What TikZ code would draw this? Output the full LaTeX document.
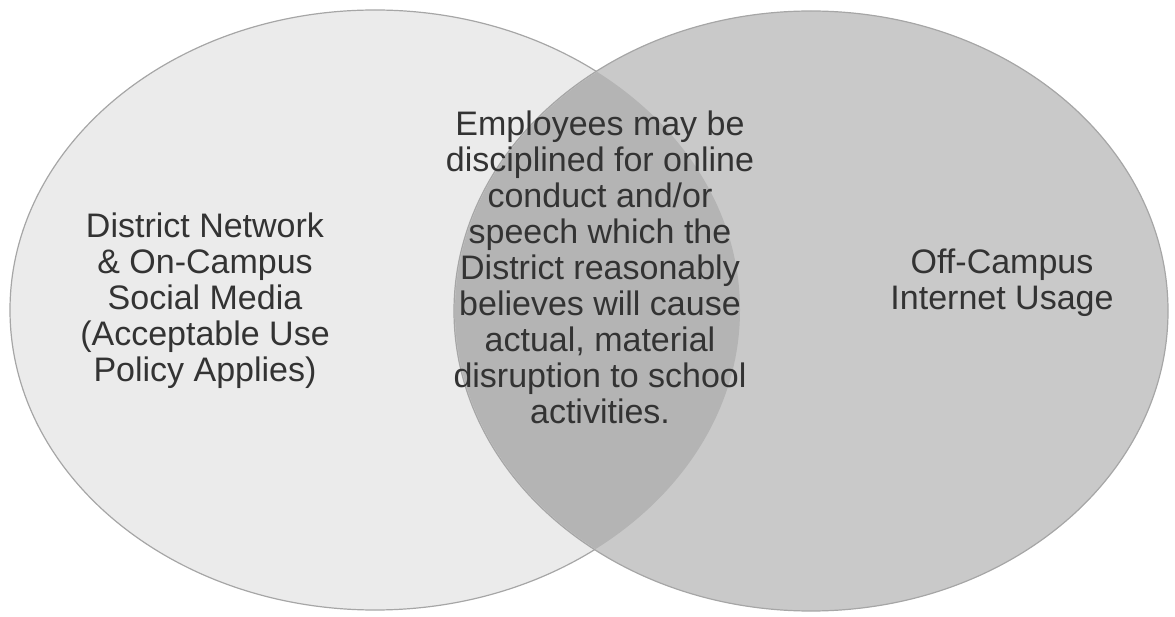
\documentclass[tikz,border=0pt]{standalone}
\usepackage{fontspec}
\setmainfont{Liberation Sans}
\definecolor{leftgray}{HTML}{EBEBEB}
\definecolor{rightgray}{HTML}{C9C9C9}
\definecolor{bothgray}{HTML}{B4B4B4}
\tikzstyle{venntext} = [align=center, text=black!80, inner sep=0pt,
    font=\fontsize{34}{36}\selectfont]
\tikzstyle{rim} = [draw=gray!70, line width=1.2pt]
\begin{document}
\begin{tikzpicture}[x=1pt, y=1pt]
    \useasboundingbox (0,0) rectangle (1175,616);
    % Draw circles
    \coordinate (lc) at (375,306);
    \coordinate (rc) at (811,305);
    \path [rim, fill=leftgray] (lc) ellipse [x radius=365, y radius=300];
    \path [rim, fill=rightgray] (rc) ellipse [x radius=357, y radius=300];
    \begin{scope}
        \clip (lc) ellipse [x radius=365, y radius=300];
        \fill [bothgray] (rc) ellipse [x radius=356, y radius=299];
    \end{scope}
    % Place nodes
    \node [venntext] (district) at (205,315) {District Network\\\& On-Campus\\Social Media\\(Acceptable Use\\Policy Applies)};
    \node [venntext] (offcampus) at (1002,333) {Off-Campus\\Internet Usage};
    \node [venntext] (overlap) at (600,349) {Employees may be\\disciplined for online\\conduct and/or\\speech which the\\District reasonably\\believes will cause\\actual, material\\disruption to school\\activities.};
\end{tikzpicture}
\end{document}
